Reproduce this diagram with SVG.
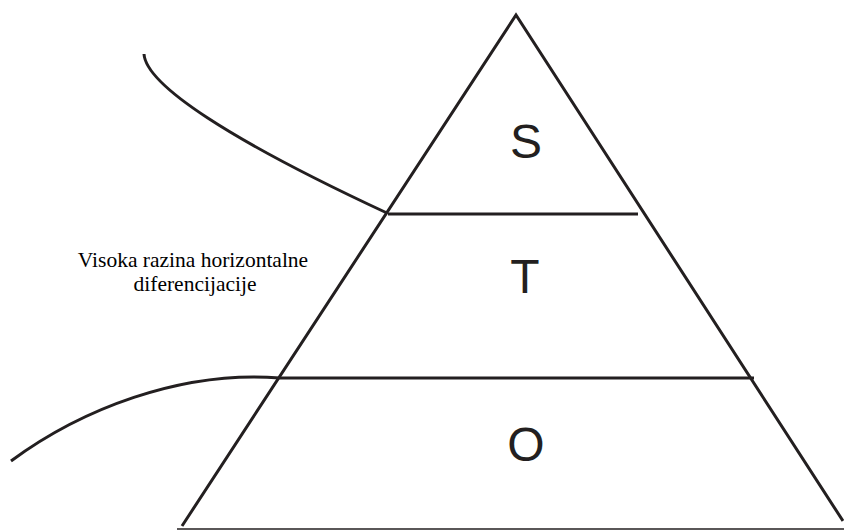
<svg xmlns="http://www.w3.org/2000/svg" width="844" height="530" viewBox="0 0 844 530">
<style>
.ln{fill:none;stroke:#231f20;stroke-width:3}
.lbl{font-family:"Liberation Sans",Arial,sans-serif;font-size:48px;fill:#231f20;text-anchor:middle}
.cap{font-family:"Liberation Serif","Times New Roman",serif;font-size:21.5px;fill:#000;text-anchor:middle}
</style>
<rect width="844" height="530" fill="#fff"/>
<g id="pyramid">
<path class="ln" d="M182,526 L516,15 L843,521"/>
<line x1="177" y1="529" x2="844" y2="529" stroke="#231f20" stroke-width="1.5"/>
</g>
<g id="level-S">
<line class="ln" x1="388" y1="214" x2="638" y2="214" stroke-width="4"/>
<text class="lbl" x="526" y="158">S</text>
</g>
<g id="level-T">
<line class="ln" x1="280" y1="378" x2="754" y2="378" stroke-width="5"/>
<text class="lbl" x="525" y="293">T</text>
</g>
<g id="level-O">
<text class="lbl" x="526" y="461">O</text>
</g>
<g id="connectors">
<path class="ln" d="M144,54 C146,85 230,140 387,213"/>
<path class="ln" d="M11,461 C80,410 180,370 280,378"/>
</g>
<g id="caption">
<text class="cap" x="193" y="267">Visoka razina horizontalne</text>
<text class="cap" x="195" y="291">diferencijacije</text>
</g>
</svg>
